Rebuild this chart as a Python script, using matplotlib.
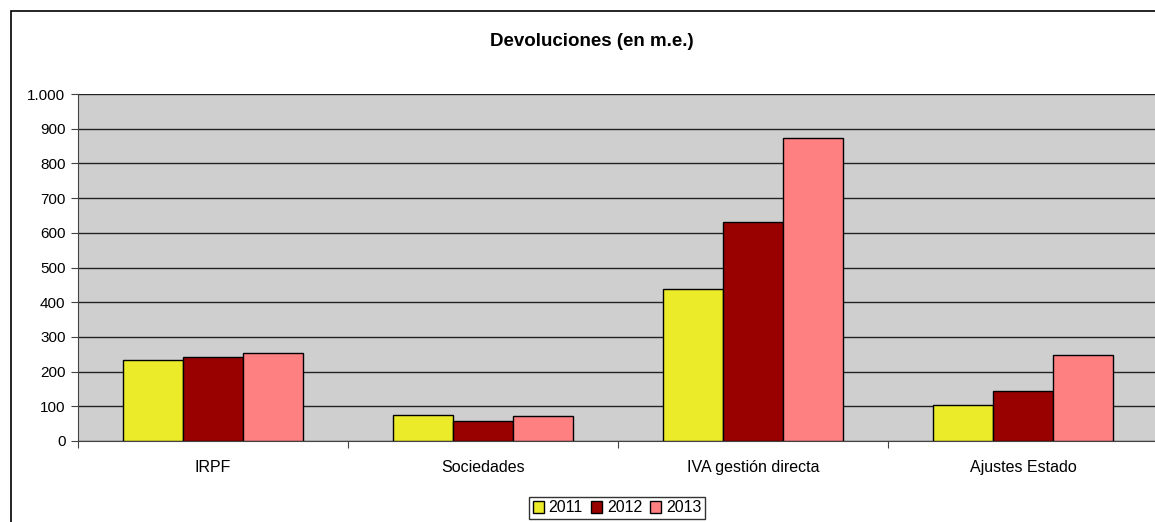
import matplotlib.pyplot as plt
import matplotlib.patches as mpatches
from matplotlib.ticker import FuncFormatter
import numpy as np

plt.rcParams['font.family'] = ['Liberation Sans', 'DejaVu Sans']

categories = ["IRPF", "Sociedades", "IVA gestión directa", "Ajustes Estado"]
years = ["2011", "2012", "2013"]
v2011 = [233, 75, 438, 104]
v2012 = [243, 58, 631, 144]
v2013 = [255, 72, 872, 248]
colors = ["#EBEB2A", "#990000", "#FF8080"]

fig = plt.figure(figsize=(11.55, 5.22), dpi=100)
ax = fig.add_axes([78 / 1155, 1 - 441 / 522, 1080 / 1155, 347 / 522])
ax.set_facecolor("#CFCFCF")

x = np.arange(len(categories)) + 0.5
w = 1 / 4.5
for i, (vals, c) in enumerate(zip([v2011, v2012, v2013], colors)):
    ax.bar(x + (i - 1) * w, vals, w, color=c, edgecolor="black",
           linewidth=1, label=years[i], zorder=3)

ax.set_xlim(0, 4)
ax.set_ylim(0, 1000)
ax.set_yticks(range(0, 1001, 100))
ax.yaxis.set_major_formatter(FuncFormatter(
    lambda v, p: "{:,.0f}".format(v).replace(",", ".")))
ax.grid(axis="y", color="#222222", linewidth=1, zorder=1)
ax.set_xticks(range(0, 5))
ax.set_xticklabels([])
ax.set_xticks(x, minor=True)
ax.set_xticklabels(categories, minor=True)
ax.tick_params(axis="x", which="minor", length=0, pad=14, labelsize=11.5)
ax.tick_params(axis="x", which="major", length=5, color="#444444")
ax.tick_params(axis="y", length=5, labelsize=11, color="#444444", pad=4)
for s in ["top", "right"]:
    ax.spines[s].set_visible(False)
ax.spines["left"].set_color("#444444")
ax.spines["bottom"].set_color("#444444")

fig.text(592 / 1155, 1 - 42 / 522, "Devoluciones (en m.e.)", ha="center",
         va="center", fontsize=13.5, fontweight="bold")

leg = fig.legend(loc="center", bbox_to_anchor=(617 / 1155, 1 - 508 / 522),
                 ncol=3, frameon=True, fancybox=False, fontsize=11.5,
                 handlelength=0.7, handleheight=0.7, handletextpad=0.3,
                 columnspacing=0.5, borderpad=0.25)
leg.get_frame().set_edgecolor("black")
leg.get_frame().set_linewidth(1)

fig.patches.append(mpatches.Rectangle((10.5 / 1155, -0.1), 1.2, 1.1 - 11 / 522,
                                      transform=fig.transFigure, fill=False,
                                      edgecolor="black", linewidth=1.2))

fig.savefig("out.png", dpi=100)
